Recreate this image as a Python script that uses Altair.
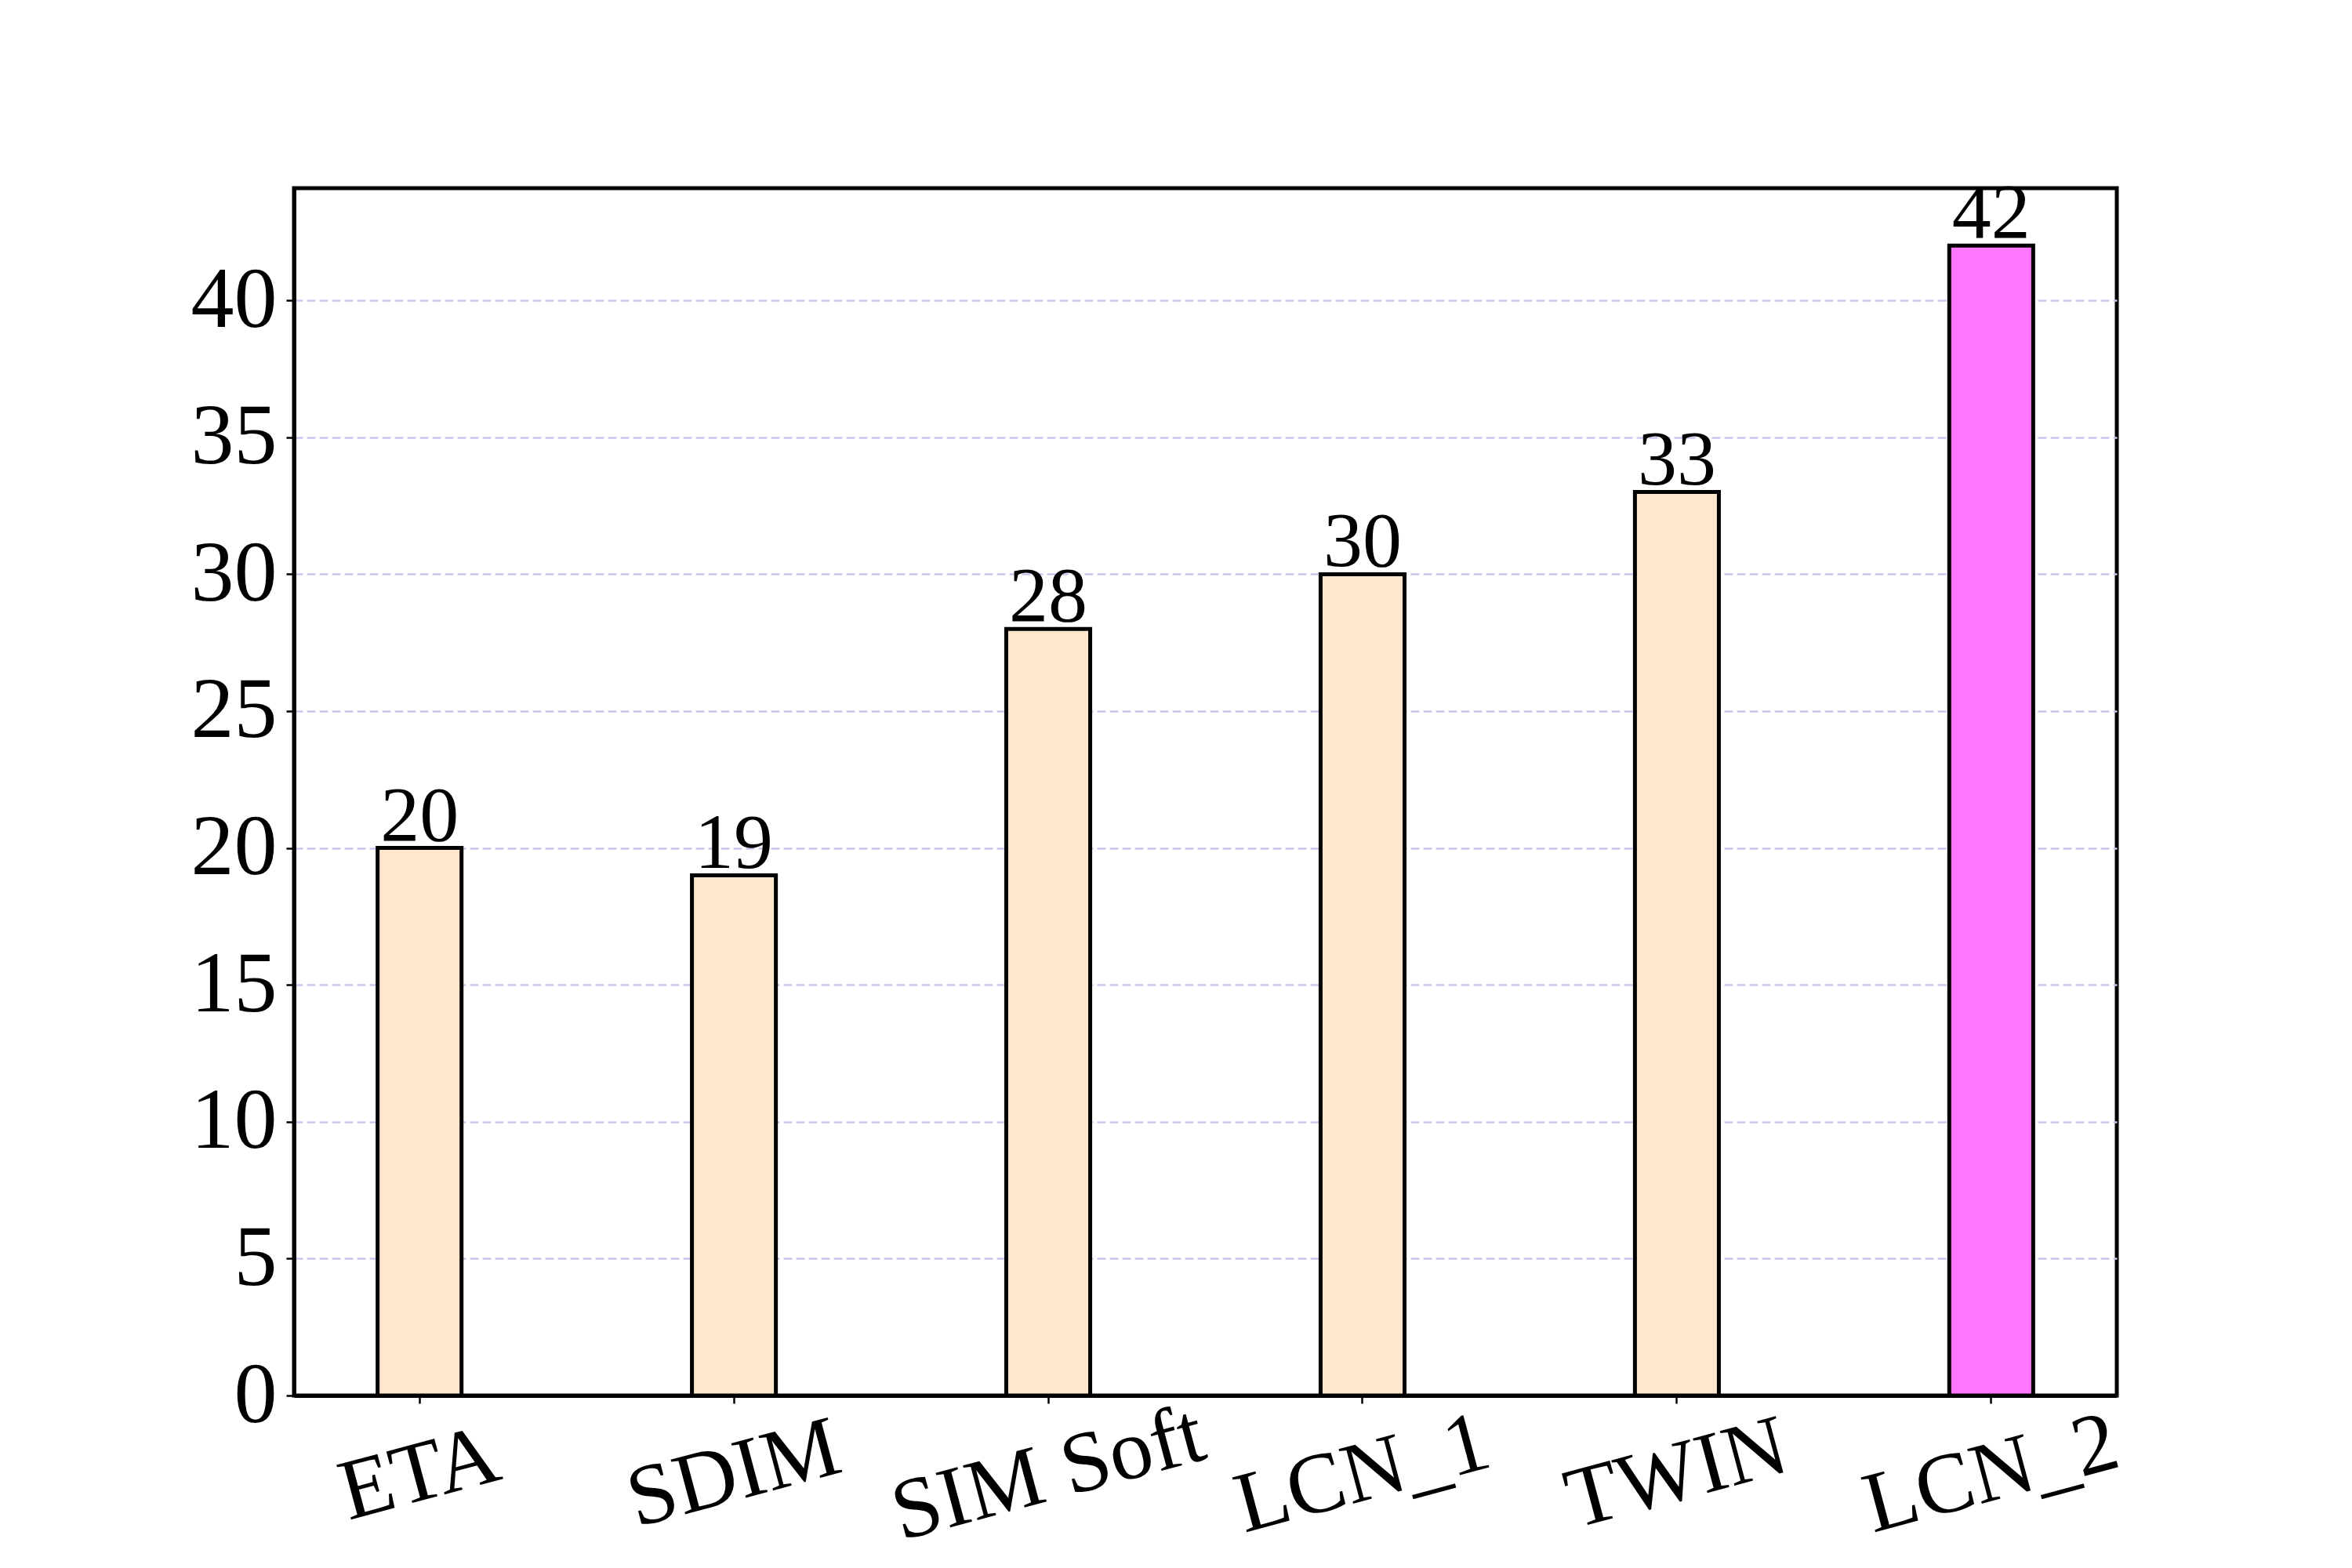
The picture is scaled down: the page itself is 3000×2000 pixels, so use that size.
import altair as alt
import pandas as pd

categories = ["ETA", "SDIM", "SIM Soft", "LCN_1", "TWIN", "LCN_2"]
values = [20, 19, 28, 30, 33, 42]
colors = ["#FFE7CE", "#FFE7CE", "#FFE7CE", "#FFE7CE", "#FFE7CE", "#FF77FF"]
y_ticks = [0, 5, 10, 15, 20, 25, 30, 35, 40]

df = pd.DataFrame({"cat": categories, "val": values, "col": colors})

FONT = "Times New Roman, Liberation Serif, serif"

x_enc = alt.X(
    "cat:N",
    sort=categories,
    scale=alt.Scale(paddingInner=0.733, paddingOuter=0.266),
    axis=alt.Axis(
        title=None,
        labelAngle=-15,
        labelAlign="center",
        labelBaseline="middle",
        labelPadding=90,
        labelLimit=0,
        labelFont=FONT,
        labelFontSize=110,
        labelColor="black",
        tickSize=10,
        tickWidth=2.5,
        tickColor="black",
        domain=True,
        domainColor="black",
        domainWidth=5,
        grid=False,
    ),
)
y_enc = alt.Y(
    "val:Q",
    scale=alt.Scale(domain=[0, 44.1], nice=False, zero=True),
    axis=alt.Axis(
        title=None,
        values=y_ticks,
        labelFont=FONT,
        labelFontSize=110,
        labelColor="black",
        labelPadding=12,
        tickSize=10,
        tickWidth=2.5,
        tickColor="black",
        domain=True,
        domainColor="black",
        domainWidth=5,
        grid=True,
        gridColor="#CEC5EE",
        gridWidth=2.5,
        gridDash=[11, 5],
    ),
)

bars = alt.Chart(df).mark_bar(stroke="black", strokeWidth=5).encode(
    x=x_enc,
    y=y_enc,
    fill=alt.Fill("col:N", scale=None),
)

labels = alt.Chart(df).mark_text(
    font=FONT, fontSize=100, color="black", baseline="alphabetic", align="center", dy=-10
).encode(
    x=alt.X("cat:N", sort=categories),
    y=alt.Y("val:Q"),
    text=alt.Text("val:Q"),
)

chart = (
    alt.layer(bars, labels)
    .properties(
        width=2325,
        height=1540,
        autosize=alt.AutoSizeParams(type="none"),
        padding={"left": 367, "top": 232, "right": 292, "bottom": 212},
        background="white",
    )
    .configure_view(stroke="black", strokeWidth=5)
)

chart.save("out.html", embed_options={"renderer": "svg", "actions": False})
